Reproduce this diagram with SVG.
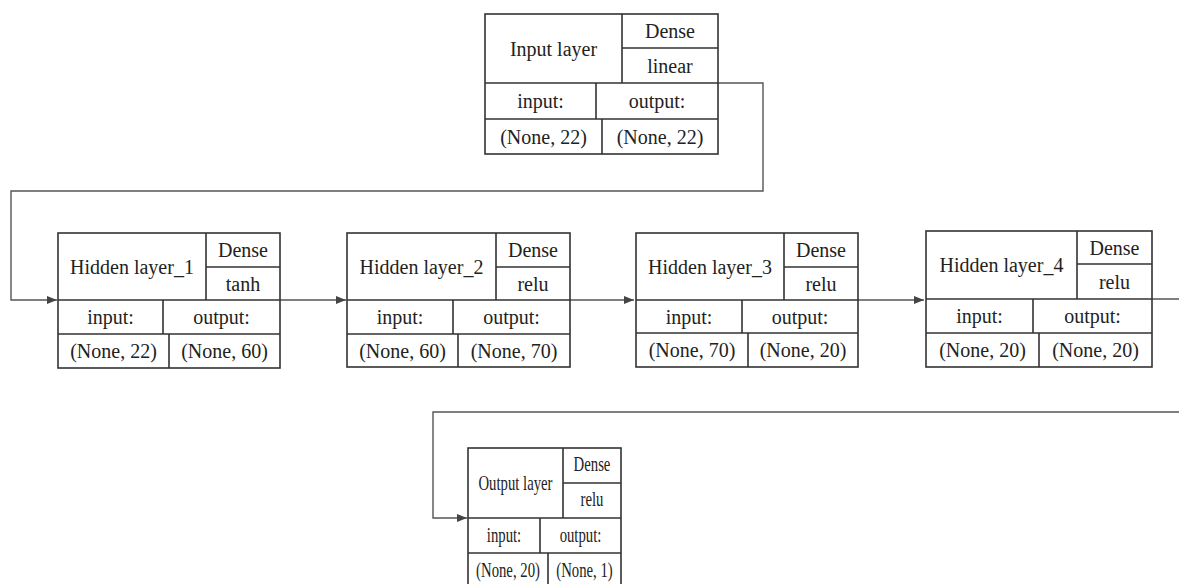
<svg xmlns="http://www.w3.org/2000/svg" width="1179" height="584" viewBox="0 0 1179 584">
<style>
.box{fill:#fff;stroke:#333;stroke-width:1.6}
.ln{fill:none;stroke:#333;stroke-width:1.6}
.cn{fill:none;stroke:#555;stroke-width:1.4}
text{font-family:"Liberation Serif","Times New Roman",serif;font-size:20px;fill:#222;text-anchor:middle}
.o text{font-size:22px}
</style>
<defs>
<marker id="ah" markerWidth="10" markerHeight="8" refX="10" refY="4" orient="auto" markerUnits="userSpaceOnUse">
<path d="M0,0 L10,4 L0,8 Z" fill="#444"/>
</marker>
</defs>
<rect width="1179" height="584" fill="#fff"/>
<g id="connectors">
<path class="cn" d="M718,83 H763 V191 H11 V300 H57" marker-end="url(#ah)"/>
<path class="cn" d="M280,300 H346" marker-end="url(#ah)"/>
<path class="cn" d="M570,300 H634" marker-end="url(#ah)"/>
<path class="cn" d="M858,300 H924" marker-end="url(#ah)"/>
<path class="cn" d="M1152,299 H1190 V412 H433 V518 H467" marker-end="url(#ah)"/>
</g>
<g id="input_layer">
<rect class="box" x="485" y="14" width="233" height="140"/>
<path class="ln" d="M622,14 V83 M622,48 H718 M485,83 H718 M596,83 V119 M485,119 H718 M602,119 V154"/>
<text x="553.5" y="55.5">Input layer</text>
<text x="670" y="37.5">Dense</text>
<text x="670" y="72.5">linear</text>
<text x="540.5" y="108">input:</text>
<text x="657" y="108">output:</text>
<text x="543.5" y="143.5">(None, 22)</text>
<text x="660" y="143.5">(None, 22)</text>
</g>
<g id="hidden_layer_1">
<rect class="box" x="58" y="233" width="222" height="135"/>
<path class="ln" d="M206,233 V300 M206,267 H280 M58,300 H280 M163,300 V334 M58,334 H280 M169,334 V368"/>
<text x="132" y="273.5">Hidden layer_1</text>
<text x="243" y="257">Dense</text>
<text x="243" y="290.5">tanh</text>
<text x="110.5" y="324">input:</text>
<text x="221.5" y="324">output:</text>
<text x="113.5" y="358">(None, 22)</text>
<text x="224.5" y="358">(None, 60)</text>
</g>
<g id="hidden_layer_2">
<rect class="box" x="347" y="233" width="223" height="134"/>
<path class="ln" d="M496,233 V300 M496,267 H570 M347,300 H570 M453,300 V334 M347,334 H570 M458,334 V367"/>
<text x="421.5" y="273.5">Hidden layer_2</text>
<text x="533" y="257">Dense</text>
<text x="533" y="290.5">relu</text>
<text x="400" y="324">input:</text>
<text x="511.5" y="324">output:</text>
<text x="402.5" y="357.5">(None, 60)</text>
<text x="514" y="357.5">(None, 70)</text>
</g>
<g id="hidden_layer_3">
<rect class="box" x="636" y="233" width="222" height="134"/>
<path class="ln" d="M784,233 V300 M784,267 H858 M636,300 H858 M742,300 V333 M636,333 H858 M748,333 V367"/>
<text x="710" y="273.5">Hidden layer_3</text>
<text x="821" y="257">Dense</text>
<text x="821" y="290.5">relu</text>
<text x="689" y="323.5">input:</text>
<text x="800" y="323.5">output:</text>
<text x="692" y="357">(None, 70)</text>
<text x="803" y="357">(None, 20)</text>
</g>
<g id="hidden_layer_4">
<rect class="box" x="926" y="231" width="226" height="136"/>
<path class="ln" d="M1077,231 V299 M1077,264 H1152 M926,299 H1152 M1033,299 V333 M926,333 H1152 M1039,333 V367"/>
<text x="1001.5" y="272">Hidden layer_4</text>
<text x="1114.5" y="254.5">Dense</text>
<text x="1114.5" y="288.5">relu</text>
<text x="979.5" y="323">input:</text>
<text x="1092.5" y="323">output:</text>
<text x="982.5" y="357">(None, 20)</text>
<text x="1095.5" y="357">(None, 20)</text>
</g>
<g id="output_layer" class="o">
<rect class="box" x="468" y="448" width="153" height="142"/>
<path class="ln" d="M563,448 V518 M563,483 H621 M468,518 H621 M540,518 V553 M468,553 H621 M548,553 V590"/>
<text transform="matrix(0.67 0 0 1 515.5 0)" x="0" y="490">Output layer</text>
<text transform="matrix(0.67 0 0 1 592 0)" x="0" y="471">Dense</text>
<text transform="matrix(0.67 0 0 1 592 0)" x="0" y="506">relu</text>
<text transform="matrix(0.67 0 0 1 504 0)" x="0" y="542">input:</text>
<text transform="matrix(0.67 0 0 1 580.5 0)" x="0" y="542">output:</text>
<text transform="matrix(0.67 0 0 1 508 0)" x="0" y="577.5">(None, 20)</text>
<text transform="matrix(0.67 0 0 1 584.5 0)" x="0" y="577.5">(None, 1)</text>
</g>
</svg>
